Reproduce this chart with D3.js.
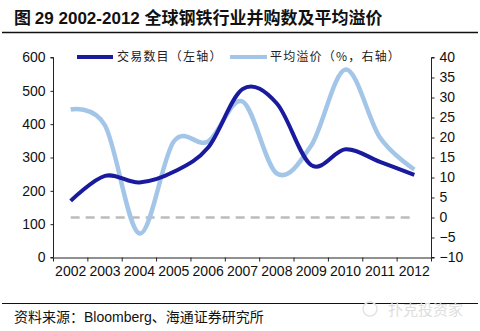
<!DOCTYPE html>
<html><head><meta charset="utf-8">
<script src="https://cdn.jsdelivr.net/npm/d3@7"></script>
<style>
body{margin:0;background:#fff;}
svg{display:block;font-family:"Liberation Sans",Arial,sans-serif;}
</style></head>
<body><svg id="c" width="480" height="331"></svg>
<script>
const years = ["2002","2003","2004","2005","2006","2007","2008","2009","2010","2011","2012"];
const deals = [170,245,225,257,330,505,462,277,325,287,248];
const premium = [27,23,-4,19,19,29,11,18,37,20,12];
const leftTicks = [0,100,200,300,400,500,600];
const rightTicks = [-10,-5,0,5,10,15,20,25,30,35,40];

const svg = d3.select("#c");
const L = 53.5, R = 431.5, T = 57.5, B = 257.5;

const x = d3.scaleBand().domain(years).range([L, R]);
const yL = d3.scaleLinear().domain([0,600]).range([B, T]);
const yR = d3.scaleLinear().domain([-10,40]).range([B, T]);

// title
const title = svg.append("text").attr("x",14).attr("y",24).attr("font-size",17).attr("font-weight","bold")
  .attr("font-family","'Noto Sans CJK SC','Liberation Sans',sans-serif").attr("fill","#111");
title.append("tspan").text("图 ");
title.append("tspan").attr("font-family","'Liberation Sans',Arial,sans-serif").text("29 2002-2012 ");
title.append("tspan").text("全球钢铁行业并购数及平均溢价");
svg.append("line").attr("x1",2).attr("x2",478).attr("y1",32.5).attr("y2",32.5).attr("stroke","#111").attr("stroke-width",1.5);

// axes
const axL = d3.axisLeft(yL).tickValues(leftTicks).tickSize(3).tickPadding(5);
const gL = svg.append("g").attr("transform",`translate(${L},0)`).call(axL);
const axR = d3.axisRight(yR).tickValues(rightTicks).tickSize(3).tickPadding(5);
const gR = svg.append("g").attr("transform",`translate(${R},0)`).call(axR);
const axB = d3.axisBottom(x).tickSize(0).tickPadding(9);
const gB = svg.append("g").attr("transform",`translate(0,${B})`).call(axB);
[gL,gR,gB].forEach(g=>{
  g.selectAll("text").attr("font-size",14).attr("fill","#111").attr("font-family","'Liberation Sans',Arial,sans-serif");
  g.selectAll("path,line").attr("stroke","#222");
  g.select(".domain").attr("stroke","#222");
});
gL.select(".domain").attr("d",`M-3,${T}H0V${B}H-3`);
gR.select(".domain").attr("d",`M3,${T}H0V${B}H3`);
// x boundary ticks
const bounds = years.map(d=>x(d)).concat([R]);
gB.selectAll(".bt").data(bounds).enter().append("line").attr("class","bt")
  .attr("x1",d=>d).attr("x2",d=>d).attr("y1",0).attr("y2",4).attr("stroke","#222");

// zero dashed line
svg.append("line").attr("x1",x(years[0])+x.bandwidth()/2).attr("x2",x(years[10])+x.bandwidth()/2)
  .attr("y1",yR(0)).attr("y2",yR(0)).attr("stroke","#bcbcbc").attr("stroke-width",2.5).attr("stroke-dasharray","9,6");

const cx = d=>x(d)+x.bandwidth()/2;
const curve = d3.curveCatmullRom.alpha(0);
svg.append("path").datum(premium).attr("fill","none").attr("stroke","#a3c6e8").attr("stroke-width",4.5)
  .attr("d", d3.line().x((d,i)=>cx(years[i])).y(d=>yR(d)).curve(curve));
svg.append("path").datum(deals).attr("fill","none").attr("stroke","#1a1a9e").attr("stroke-width",4)
  .attr("d", d3.line().x((d,i)=>cx(years[i])).y(d=>yL(d)).curve(curve));

// legend
const lg = svg.append("g").attr("font-family","'Noto Sans CJK SC',sans-serif").attr("font-size",12).attr("fill","#222")
  .attr("letter-spacing",1.2);
lg.append("line").attr("x1",77).attr("x2",113).attr("y1",57).attr("y2",57).attr("stroke","#1a1a9e").attr("stroke-width",4);
lg.append("text").attr("x",117).attr("y",61).text("交易数目（左轴）");
lg.append("line").attr("x1",230).attr("x2",267).attr("y1",57).attr("y2",57).attr("stroke","#a3c6e8").attr("stroke-width",4);
lg.append("text").attr("x",270).attr("y",61).text("平均溢价（%，右轴）");

// footer
svg.append("line").attr("x1",2).attr("x2",478).attr("y1",303.5).attr("y2",303.5).attr("stroke","#111").attr("stroke-width",1.2);
const src = svg.append("text").attr("x",14).attr("y",322).attr("font-size",14).attr("fill","#111")
  .attr("font-family","'Noto Sans CJK SC','Liberation Sans',sans-serif");
src.append("tspan").text("资料来源：");
src.append("tspan").attr("font-family","'Liberation Sans',Arial,sans-serif").text("Bloomberg");
src.append("tspan").text("、海通证券研究所");
svg.append("text").attr("x",388).attr("y",315).attr("font-size",15).attr("fill","#dedede")
  .attr("font-family","'Noto Sans CJK SC',sans-serif").text("扑克投资家");
svg.append("circle").attr("cx",370).attr("cy",309).attr("r",7).attr("fill","none").attr("stroke","#e4e4e4").attr("stroke-width",1.5);
</script></body></html>
